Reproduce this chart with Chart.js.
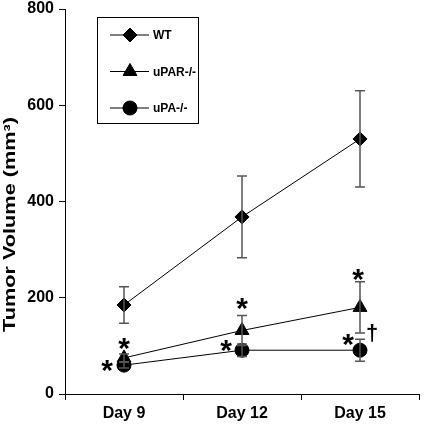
<!DOCTYPE html>
<html><head><meta charset="utf-8">
<script src="https://cdn.jsdelivr.net/npm/chart.js@4/dist/chart.umd.min.js"></script>
<style>html,body{margin:0;padding:0;background:#fff}#wrap{width:428px;height:424px}</style>
</head><body><div id="wrap"><canvas id="c" width="428" height="424"></canvas></div>
<script>
const categories = ['Day 9', 'Day 12', 'Day 15'];
const wtValues = [185, 368, 530];
const wtErrors = [38, 85, 100];
const uparValues = [75, 132, 180];
const uparErrors = [8, 31, 53];
const upaValues = [60, 91, 91];
const upaErrors = [6, 13, 23];
const yTicks = [0, 200, 400, 600, 800];
const seriesNames = ['WT', 'uPAR-/-', 'uPA-/-'];
const yTitle = 'Tumor Volume (mm³)';

const FONT = '"Liberation Sans", Arial, sans-serif';

const errorBarPlugin = {
  id: 'errbars',
  afterDatasetsDraw(chart) {
    const ctx = chart.ctx, y = chart.scales.y;
    ctx.save();
    ctx.strokeStyle = '#555';
    ctx.lineWidth = 1.5;
    chart.data.datasets.forEach((ds, di) => {
      const meta = chart.getDatasetMeta(di);
      ds.errors.forEach((e, i) => {
        const pt = meta.data[i];
        const x = pt.x;
        const yt = y.getPixelForValue(ds.data[i] + e);
        const yb = y.getPixelForValue(ds.data[i] - e);
        ctx.beginPath();
        ctx.moveTo(x, yt); ctx.lineTo(x, yb);
        ctx.moveTo(x - 5, yt); ctx.lineTo(x + 5, yt);
        ctx.moveTo(x - 5, yb); ctx.lineTo(x + 5, yb);
        ctx.stroke();
      });
    });
    ctx.restore();
  }
};

// significance marks anchored to data points
const marks = [
  {ds: 1, i: 0, dx: 0, dy: -17, t: '*'},
  {ds: 2, i: 0, dx: -17, dy: -2, t: '*'},
  {ds: 1, i: 1, dx: 0, dy: -30, t: '*'},
  {ds: 2, i: 1, dx: -16, dy: -7, t: '*'},
  {ds: 1, i: 2, dx: -2, dy: -36, t: '*'},
  {ds: 2, i: 2, dx: -12, dy: -13, t: '*'},
  {ds: 2, i: 2, dx: 12, dy: -17, t: '†'}
];
const marksPlugin = {
  id: 'marks',
  afterDatasetsDraw(chart) {
    const ctx = chart.ctx;
    ctx.save();
    ctx.fillStyle = '#000';
    ctx.textAlign = 'center';
    ctx.textBaseline = 'alphabetic';
    marks.forEach(m => {
      const pt = chart.getDatasetMeta(m.ds).data[m.i];
      if (m.t === '*') {
        ctx.font = 'bold 30px ' + FONT;
        ctx.fillText(m.t, pt.x + m.dx, pt.y + m.dy + 0.575 * 30);
      } else {
        ctx.font = 'bold 22px ' + FONT;
        ctx.fillText(m.t, pt.x + m.dx, pt.y + m.dy + 0.29 * 22);
      }
    });
    ctx.restore();
  }
};

const titlePlugin = {
  id: 'yTitleStretched',
  afterDraw(chart) {
    const ctx = chart.ctx;
    ctx.save();
    ctx.font = 'bold 16px ' + FONT;
    const w = ctx.measureText(yTitle).width;
    const target = 215;
    ctx.translate(15, 224.5);
    ctx.rotate(-Math.PI / 2);
    ctx.scale(target / w, 1);
    ctx.fillStyle = '#000';
    ctx.textAlign = 'center';
    ctx.textBaseline = 'alphabetic';
    ctx.fillText(yTitle, 0, 0);
    ctx.restore();
  }
};

const legendPlugin = {
  id: 'boxLegend',
  afterDraw(chart) {
    const ctx = chart.ctx, a = chart.chartArea;
    const bx = a.left + 32, by = a.top + 8, bw = 101, bh = 106;
    ctx.save();
    ctx.strokeStyle = '#000';
    ctx.lineWidth = 1;
    ctx.strokeRect(bx + 0.5, by + 0.5, bw, bh);
    chart.data.datasets.forEach((ds, di) => {
      const yy = by + 18 + di * 36.5;
      ctx.beginPath();
      ctx.moveTo(bx + 13, yy); ctx.lineTo(bx + 52, yy);
      ctx.lineWidth = 1; ctx.stroke();
      Chart.helpers.drawPoint(ctx, {pointStyle: ds.pointStyle, radius: ds.pointRadius, borderWidth: 1}, bx + 33, yy);
      ctx.fillStyle = '#000';
      ctx.fill();
      ctx.font = 'bold 12px ' + FONT;
      ctx.textAlign = 'left';
      ctx.textBaseline = 'middle';
      ctx.fillText(ds.label, bx + 56, yy + 1);
    });
    ctx.restore();
  }
};

function mk(label, data, errors, style, r) {
  return {label, data, errors, pointStyle: style, pointRadius: r, pointHoverRadius: r,
    borderColor: '#000', backgroundColor: '#000', pointBackgroundColor: '#000',
    pointBorderColor: '#000', borderWidth: 1, pointBorderWidth: 1, tension: 0, fill: false};
}

new Chart(document.getElementById('c'), {
  type: 'line',
  data: {
    labels: categories,
    datasets: [
      mk(seriesNames[0], wtValues, wtErrors, 'rectRot', 7),
      mk(seriesNames[1], uparValues, uparErrors, 'triangle', 8),
      mk(seriesNames[2], upaValues, upaErrors, 'circle', 7)
    ]
  },
  options: {
    responsive: false,
    animation: false,
    events: [],
    layout: {padding: {top: 9, right: 2, left: 0, bottom: 0}},
    plugins: {legend: {display: false}, tooltip: {enabled: false}},
    scales: {
      x: {
        offset: true,
        grid: {display: true, drawOnChartArea: false, offset: true, color: '#000', tickLength: 6},
        border: {color: '#000', width: 1},
        ticks: {color: '#000', font: {family: FONT, size: 16, weight: 'bold'}, padding: 4},
        afterFit(s) { s.height = 30; s.paddingLeft = 0; s.paddingRight = 0; }
      },
      y: {
        min: 0, max: 800,
        afterBuildTicks(s) { s.ticks = yTicks.map(v => ({value: v})); },
        grid: {display: true, drawOnChartArea: false, color: '#000', tickLength: 6},
        border: {color: '#000', width: 1},
        ticks: {color: '#000', font: {family: FONT, size: 16, weight: 'bold'}, padding: 5},
        title: {display: false},
        afterFit(s) { s.width = 65; s.paddingTop = 0; s.paddingBottom = 0; }
      }
    }
  },
  plugins: [errorBarPlugin, marksPlugin, titlePlugin, legendPlugin]
});
</script></body></html>
